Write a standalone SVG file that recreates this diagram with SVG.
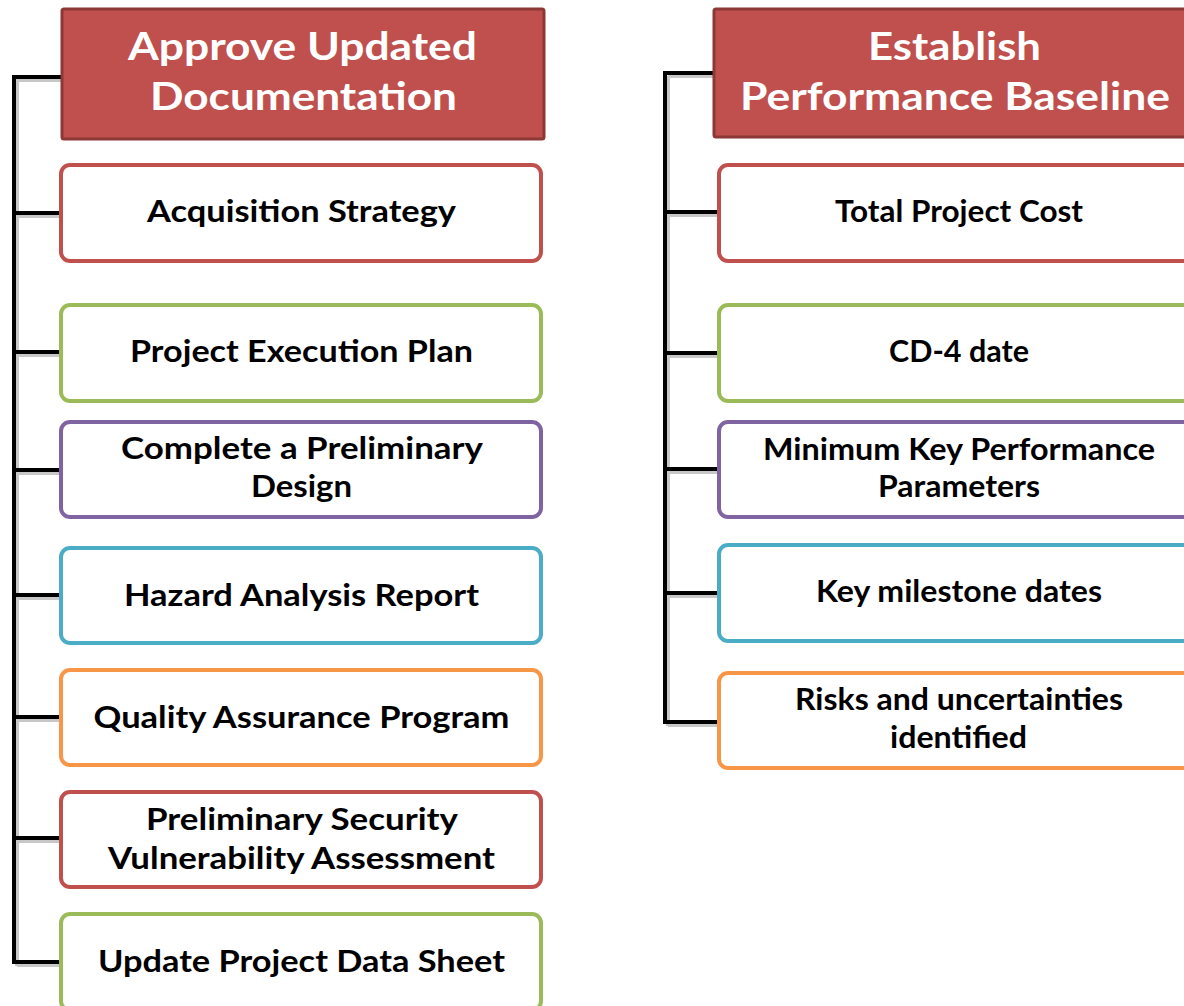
<svg xmlns="http://www.w3.org/2000/svg" width="1184" height="1006" viewBox="0 0 1184 1006">
<style>
.hdr{fill:#C0504D;stroke:#8C3836;stroke-width:3}
.box{fill:#ffffff;stroke-width:4}
.red{stroke:#C0504D}.grn{stroke:#9BBB59}.pur{stroke:#8064A2}.cyn{stroke:#4BACC6}.org{stroke:#F79646}
.ht{font-family:Lato,"Liberation Sans",sans-serif;font-weight:bold;font-size:39px;fill:#ffffff;text-anchor:middle}
.bt{font-family:Lato,"Liberation Sans",sans-serif;font-weight:bold;font-size:30px;fill:#000000;text-anchor:middle}
.ln{fill:none;stroke:#000000;stroke-width:4;stroke-linejoin:miter}
.sh{fill:none;stroke:#000000;stroke-opacity:0.22;stroke-width:4}
</style>
<rect width="1184" height="1006" fill="#ffffff"/>
<g id="connectors">
<path class="sh" d="M17,78 V966 M17,80 H64 M17,216 H64 M17,355 H64 M17,473 H64 M17,598 H64 M17,720 H64 M17,841 H64 M17,965 H64"/>
<path class="sh" d="M668,76 V726 M668,76 H716 M668,215 H720 M668,356 H720 M668,472 H720 M668,596 H720 M668,725 H720"/>
<path class="ln" d="M61,77 H14 V962 H61 M14,213 H61 M14,352 H61 M14,470 H61 M14,595 H61 M14,717 H61 M14,838 H61"/>
<path class="ln" d="M714,73 H665 V722 H718 M665,212 H718 M665,353 H718 M665,469 H718 M665,593 H718"/>
</g>
<g id="h1">
<rect class="hdr" x="62" y="9" width="482" height="130" rx="2"/>
<text class="ht" x="302.5" y="60" textLength="349" lengthAdjust="spacingAndGlyphs">Approve Updated</text>
<text class="ht" x="303.5" y="110" textLength="307" lengthAdjust="spacingAndGlyphs">Documentation</text>
</g>
<g id="a1">
<rect class="box red" x="61" y="165" width="480" height="96" rx="9"/>
<text class="bt" x="301.5" y="222" textLength="309" lengthAdjust="spacingAndGlyphs">Acquisition Strategy</text>
</g>
<g id="a2">
<rect class="box grn" x="61" y="305" width="480" height="96" rx="9"/>
<text class="bt" x="301.5" y="362" textLength="343" lengthAdjust="spacingAndGlyphs">Project Execution Plan</text>
</g>
<g id="a3">
<rect class="box pur" x="61" y="422" width="480" height="95" rx="9"/>
<text class="bt" x="302" y="459" textLength="362" lengthAdjust="spacingAndGlyphs">Complete a Preliminary</text>
<text class="bt" x="301.5" y="497" textLength="101" lengthAdjust="spacingAndGlyphs">Design</text>
</g>
<g id="a4">
<rect class="box cyn" x="61" y="548" width="480" height="95" rx="9"/>
<text class="bt" x="301.5" y="606" textLength="355" lengthAdjust="spacingAndGlyphs">Hazard Analysis Report</text>
</g>
<g id="a5">
<rect class="box org" x="61" y="670" width="480" height="95" rx="9"/>
<text class="bt" x="301.5" y="728" textLength="416" lengthAdjust="spacingAndGlyphs">Quality Assurance Program</text>
</g>
<g id="a6">
<rect class="box red" x="61" y="792" width="480" height="95" rx="9"/>
<text class="bt" x="302" y="830" textLength="312" lengthAdjust="spacingAndGlyphs">Preliminary Security</text>
<text class="bt" x="301.5" y="869" textLength="387" lengthAdjust="spacingAndGlyphs">Vulnerability Assessment</text>
</g>
<g id="a7">
<rect class="box grn" x="61" y="914" width="480" height="96" rx="9"/>
<text class="bt" x="301.5" y="972" textLength="407" lengthAdjust="spacingAndGlyphs">Update Project Data Sheet</text>
</g>
<g id="h2">
<rect class="hdr" x="714" y="9" width="484" height="128" rx="2"/>
<text class="ht" x="954.5" y="60" textLength="173" lengthAdjust="spacingAndGlyphs">Establish</text>
<text class="ht" x="955" y="110" textLength="430" lengthAdjust="spacingAndGlyphs">Performance Baseline</text>
</g>
<g id="b1">
<rect class="box red" x="719" y="165" width="480" height="96" rx="9"/>
<text class="bt" x="959" y="222" textLength="248" lengthAdjust="spacingAndGlyphs">Total Project Cost</text>
</g>
<g id="b2">
<rect class="box grn" x="719" y="305" width="480" height="96" rx="9"/>
<text class="bt" x="959" y="362" textLength="140" lengthAdjust="spacingAndGlyphs">CD-4 date</text>
</g>
<g id="b3">
<rect class="box pur" x="719" y="422" width="480" height="95" rx="9"/>
<text class="bt" x="959" y="460" textLength="392" lengthAdjust="spacingAndGlyphs">Minimum Key Performance</text>
<text class="bt" x="959" y="497" textLength="162" lengthAdjust="spacingAndGlyphs">Parameters</text>
</g>
<g id="b4">
<rect class="box cyn" x="719" y="545" width="480" height="96" rx="9"/>
<text class="bt" x="959" y="602" textLength="286" lengthAdjust="spacingAndGlyphs">Key milestone dates</text>
</g>
<g id="b5">
<rect class="box org" x="719" y="673" width="480" height="95" rx="9"/>
<text class="bt" x="959" y="710" textLength="328" lengthAdjust="spacingAndGlyphs">Risks and uncertainties</text>
<text class="bt" x="958.5" y="748" textLength="137" lengthAdjust="spacingAndGlyphs">identified</text>
</g>
</svg>
